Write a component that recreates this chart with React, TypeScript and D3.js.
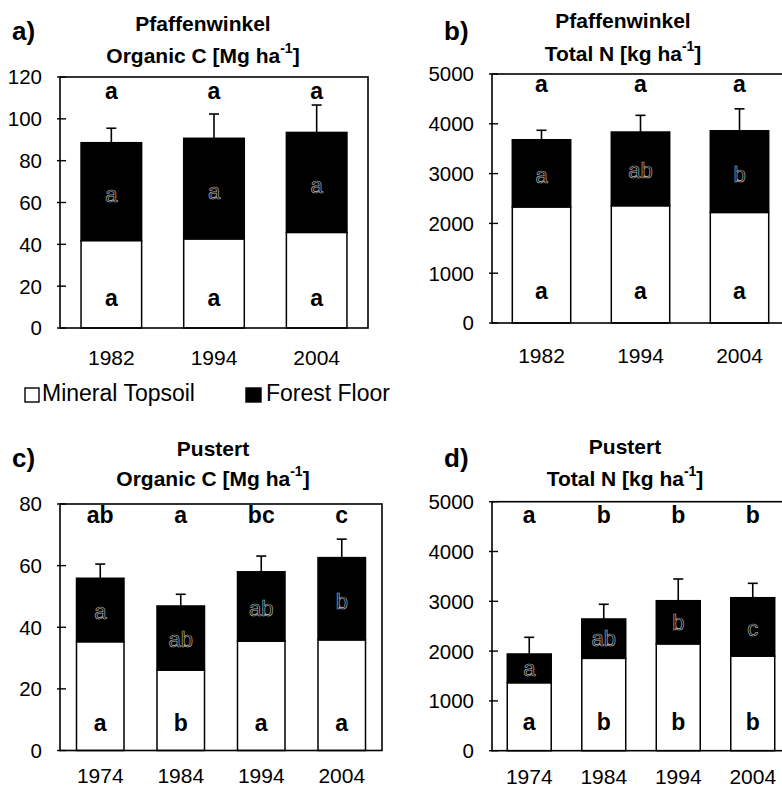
import React from "react";
import * as d3 from "d3";

// ---- data ----
const yearsPfaffen = ["1982", "1994", "2004"];
const yearsPustert = ["1974", "1984", "1994", "2004"];

const pfCMineral = [41.8, 42.6, 45.7];
const pfCForest = [46.8, 48.1, 47.8];
const pfCError = [6.9, 11.6, 13.1];
const pfCTopLetters = ["a", "a", "a"];
const pfCMineralLetters = ["a", "a", "a"];
const pfCForestLetters = ["a", "a", "a"];

const pfNMineral = [2330, 2355, 2220];
const pfNForest = [1350, 1480, 1640];
const pfNError = [190, 335, 440];
const pfNTopLetters = ["a", "a", "a"];
const pfNMineralLetters = ["a", "a", "a"];
const pfNForestLetters = ["a", "ab", "b"];

const puCMineral = [35.3, 26.1, 35.5, 35.9];
const puCForest = [20.6, 20.8, 22.5, 26.7];
const puCError = [4.6, 3.8, 5.1, 6.0];
const puCTopLetters = ["ab", "a", "bc", "c"];
const puCMineralLetters = ["a", "b", "a", "a"];
const puCForestLetters = ["a", "ab", "ab", "b"];

const puNMineral = [1365, 1855, 2145, 1900];
const puNForest = [577, 790, 867, 1172];
const puNError = [335, 295, 436, 289];
const puNTopLetters = ["a", "b", "b", "b"];
const puNMineralLetters = ["a", "b", "b", "b"];
const puNForestLetters = ["a", "ab", "b", "c"];

const ticksC120 = [0, 20, 40, 60, 80, 100, 120];
const ticksC80 = [0, 20, 40, 60, 80];
const ticksN = [0, 1000, 2000, 3000, 4000, 5000];

const FONT = "'Liberation Sans', Arial, Helvetica, sans-serif";

type PanelProps = {
  tag: string;
  site: string;
  measure: string;
  unit: string;
  years: string[];
  mineral: number[];
  forest: number[];
  err: number[];
  top: string[];
  minL: string[];
  forL: string[];
  ticks: number[];
  ymax: number;
  box: { l: number; r: number; t: number; b: number };
  titleX: number;
  titleY1: number;
  titleY2: number;
  tagY: number;
  topLetterDy: number;
  botLetterDy: number;
  yearDy: number;
};

function Panel(p: PanelProps) {
  const x = d3
    .scaleBand<string>()
    .domain(p.years)
    .range([p.box.l, p.box.r])
    .paddingInner(0.41)
    .paddingOuter(0.205);
  const y = d3.scaleLinear().domain([0, p.ymax]).range([p.box.b, p.box.t]);
  const bw = x.bandwidth();
  const tagX = p.box.l - 48;
  return (
    <g>
      <text x={tagX} y={p.tagY} fontSize={26} fontWeight="bold" dominantBaseline="middle" fontFamily={FONT}>
        {p.tag}
      </text>
      <text x={p.titleX} y={p.titleY1} fontSize={21} fontWeight="bold" textAnchor="middle" dominantBaseline="middle" fontFamily={FONT}>
        {p.site}
      </text>
      <text x={p.titleX} y={p.titleY2} fontSize={21} fontWeight="bold" textAnchor="middle" dominantBaseline="middle" fontFamily={FONT}>
        {p.measure + " [" + p.unit + " ha"}
        <tspan fontSize={14} dy={-8}>-1</tspan>
        <tspan dy={8}>]</tspan>
      </text>
      {p.years.map((yr, i) => {
        const cx = (x(yr) as number) + bw / 2;
        const m = p.mineral[i];
        const f = p.forest[i];
        const tot = m + f;
        const e = p.err[i];
        return (
          <g key={yr}>
            <rect x={x(yr)} y={y(m)} width={bw} height={y(0) - y(m)} fill="#fff" stroke="#000" strokeWidth={1.5} />
            <rect x={x(yr)} y={y(tot)} width={bw} height={y(m) - y(tot)} fill="#000" stroke="#000" strokeWidth={1.5} />
            <line x1={cx} x2={cx} y1={y(tot)} y2={y(tot + e)} stroke="#000" strokeWidth={1.6} />
            <line x1={cx - 5} x2={cx + 5} y1={y(tot + e)} y2={y(tot + e)} stroke="#000" strokeWidth={1.6} />
            <text x={cx} y={p.box.t + p.topLetterDy} fontSize={23} fontWeight="bold" textAnchor="middle" dominantBaseline="middle" fontFamily={FONT}>
              {p.top[i]}
            </text>
            <text x={cx} y={p.box.b - p.botLetterDy} fontSize={23} fontWeight="bold" textAnchor="middle" dominantBaseline="middle" fontFamily={FONT}>
              {p.minL[i]}
            </text>
            <text x={cx} y={y(m + f * 0.45)} fontSize={22} textAnchor="middle" dominantBaseline="middle" fontFamily={FONT} fill="#000" stroke="#b0b0b0" strokeWidth={0.7}>
              {p.forL[i]}
            </text>
            <text x={cx} y={p.box.b + p.yearDy} fontSize={21} textAnchor="middle" dominantBaseline="middle" fontFamily={FONT}>
              {yr}
            </text>
          </g>
        );
      })}
      {p.ticks.map((t) => (
        <g key={t}>
          <line x1={p.box.l - 3} x2={p.box.l + 6} y1={y(t)} y2={y(t)} stroke="#000" strokeWidth={1.4} />
          <text x={p.box.l - 18} y={y(t) + 2} fontSize={20.5} textAnchor="end" dominantBaseline="middle" fontFamily={FONT}>
            {t}
          </text>
        </g>
      ))}
      <rect x={p.box.l} y={p.box.t} width={p.box.r - p.box.l} height={p.box.b - p.box.t} fill="none" stroke="#000" strokeWidth={1.6} />
    </g>
  );
}

export default function App() {
  return (
    <svg width={782} height={790} style={{ position: "absolute", left: 0, top: 0, background: "#fff" }}>
      <rect x={0} y={0} width={782} height={790} fill="#fff" />
      <Panel
        tag="a)" site="Pfaffenwinkel" measure="Organic C" unit="Mg"
        years={yearsPfaffen} mineral={pfCMineral} forest={pfCForest} err={pfCError}
        top={pfCTopLetters} minL={pfCMineralLetters} forL={pfCForestLetters}
        ticks={ticksC120} ymax={120}
        box={{ l: 60, r: 368, t: 77, b: 328 }}
        titleX={203} titleY1={25} titleY2={57} tagY={33}
        topLetterDy={16} botLetterDy={28} yearDy={31}
      />
      <Panel
        tag="b)" site="Pfaffenwinkel" measure="Total N" unit="kg"
        years={yearsPfaffen} mineral={pfNMineral} forest={pfNForest} err={pfNError}
        top={pfNTopLetters} minL={pfNMineralLetters} forL={pfNForestLetters}
        ticks={ticksN} ymax={5000}
        box={{ l: 492, r: 789, t: 74, b: 323 }}
        titleX={623} titleY1={22} titleY2={55} tagY={33}
        topLetterDy={12} botLetterDy={30} yearDy={34}
      />
      <Panel
        tag="c)" site="Pustert" measure="Organic C" unit="Mg"
        years={yearsPustert} mineral={puCMineral} forest={puCForest} err={puCError}
        top={puCTopLetters} minL={puCMineralLetters} forL={puCForestLetters}
        ticks={ticksC80} ymax={80}
        box={{ l: 60, r: 382, t: 504, b: 750.5 }}
        titleX={213} titleY1={450} titleY2={480} tagY={460}
        topLetterDy={13} botLetterDy={26} yearDy={27}
      />
      <Panel
        tag="d)" site="Pustert" measure="Total N" unit="kg"
        years={yearsPustert} mineral={puNMineral} forest={puNForest} err={puNError}
        top={puNTopLetters} minL={puNMineralLetters} forL={puNForestLetters}
        ticks={ticksN} ymax={5000}
        box={{ l: 492, r: 790, t: 501.7, b: 750.7 }}
        titleX={625} titleY1={448} titleY2={480} tagY={460}
        topLetterDy={15} botLetterDy={27} yearDy={28}
      />
      {/* legend */}
      <rect x={25} y={388} width={14} height={14} fill="#fff" stroke="#000" strokeWidth={1.4} />
      <text x={42} y={395} fontSize={23} dominantBaseline="middle" fontFamily={FONT}>Mineral Topsoil</text>
      <rect x={246} y={388} width={15} height={14} fill="#000" stroke="#000" strokeWidth={1.4} />
      <text x={266} y={395} fontSize={23} dominantBaseline="middle" fontFamily={FONT}>Forest Floor</text>
    </svg>
  );
}
